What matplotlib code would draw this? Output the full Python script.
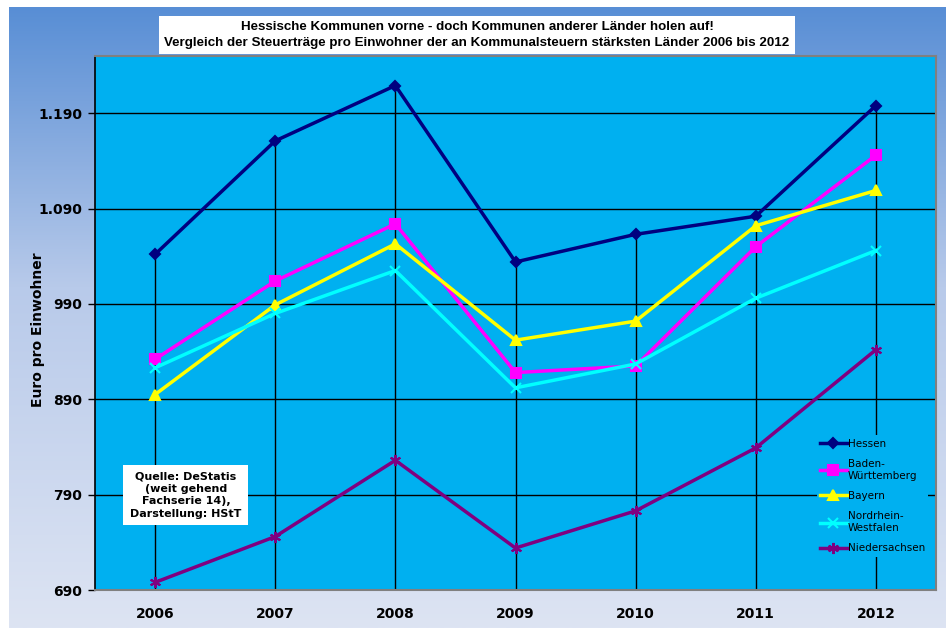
import numpy as np
import matplotlib
matplotlib.use("Agg")
import matplotlib.pyplot as plt
from matplotlib.ticker import FixedLocator, FuncFormatter

years = ["2006", "2007", "2008", "2009", "2010", "2011", "2012"]
hessen = [1042, 1161, 1219, 1034, 1063, 1082, 1198]
baden_wuerttemberg = [932, 1014, 1074, 918, 925, 1050, 1146]
bayern = [895, 989, 1053, 952, 972, 1072, 1109]
nordrhein_westfalen = [923, 980, 1025, 902, 927, 996, 1046]
niedersachsen = [698, 746, 826, 734, 773, 839, 942]

y_ticks = [690, 790, 890, 990, 1090, 1190]

series = [
    ("Hessen", hessen, "#000080", "D", 5),
    ("Baden-\nWürttemberg", baden_wuerttemberg, "#ff00ff", "s", 6.5),
    ("Bayern", bayern, "#ffff00", "^", 6.5),
    ("Nordrhein-\nWestfalen", nordrhein_westfalen, "#00ffff", "x", 6.5),
    ("Niedersachsen", niedersachsen, "#800080", (6, 2, 0), 8),
]

plt.rcParams["font.family"] = ["DejaVu Sans"]

fig = plt.figure(figsize=(9.5, 6.28), dpi=100)

# gradient background of the chart area
bg = fig.add_axes([9 / 950, 0, (946 - 9) / 950, 1 - 7 / 628], zorder=-10)
grad = np.linspace(0, 1, 256).reshape(-1, 1)
top = np.array([0x58, 0x8e, 0xd5]) / 255
mid = np.array([0xb8, 0xca, 0xea]) / 255
bot = np.array([0xdd, 0xe4, 0xf3]) / 255
colors = np.where(grad[..., None] < 0.45,
                  top + (mid - top) * (grad[..., None] / 0.45),
                  mid + (bot - mid) * ((grad[..., None] - 0.45) / 0.55))
bg.imshow(colors, aspect="auto", extent=[0, 1, 0, 1], origin="upper")
bg.set_axis_off()

ax = fig.add_axes([95 / 950, 1 - 590 / 628, (936 - 95) / 950, (590 - 56) / 628])
ax.set_facecolor("#00b0f0")

x = np.arange(len(years))
ax.set_xlim(-0.5, len(years) - 0.5)
ax.set_ylim(690, 1250)

# horizontal gridlines
for yv in y_ticks:
    ax.axhline(yv, color="black", lw=1, zorder=1)

# drop lines from the highest value to the axis
top_vals = np.max(np.array([s[1] for s in series]), axis=0)
ax.vlines(x, 690, top_vals, color="black", lw=1, zorder=1)

for label, vals, col, mk, ms in series:
    ax.plot(x, vals, color=col, lw=2.5, marker=mk, markersize=ms,
            markeredgecolor=col, markerfacecolor=col, markeredgewidth=1.5,
            label=label, zorder=3)

ax.yaxis.set_major_locator(FixedLocator(y_ticks))
ax.yaxis.set_major_formatter(FuncFormatter(lambda v, p: f"{int(v):,}".replace(",", ".")))
ax.set_xticks(x)
ax.set_xticklabels(years)
ax.tick_params(axis="x", length=0, pad=12, labelsize=10)
ax.tick_params(axis="y", length=5, width=1, pad=4, labelsize=10)
for lab in ax.get_xticklabels() + ax.get_yticklabels():
    lab.set_fontweight("bold")

for side in ("top", "right", "bottom"):
    ax.spines[side].set_color("#808080")
    ax.spines[side].set_linewidth(1.5)
ax.spines["left"].set_color("black")
ax.spines["left"].set_linewidth(1.2)

fig.text(38 / 950, 1 - 330 / 628, "Euro pro Einwohner", rotation=90,
         ha="center", va="center", fontsize=10, fontweight="bold")

leg = ax.legend(loc="center left", bbox_to_anchor=(0.852, 0.176), fontsize=7.5,
                frameon=True, facecolor="#00b0f0", edgecolor="none",
                framealpha=1, handlelength=2.6, handletextpad=0.1,
                labelspacing=1.0, borderpad=0.3, fancybox=False)
leg.set_zorder(5)

ax.text(0.108, 0.178, "Quelle: DeStatis\n(weit gehend\nFachserie 14),\nDarstellung: HStT",
        transform=ax.transAxes, ha="center", va="center", fontsize=8,
        fontweight="bold", linespacing=1.3, zorder=6,
        bbox=dict(boxstyle="square,pad=0.6", facecolor="white", edgecolor="none"))

fig.text(477 / 950, 1 - 35 / 628,
         "Hessische Kommunen vorne - doch Kommunen anderer Länder holen auf!\n"
         "Vergleich der Steuerträge pro Einwohner der an Kommunalsteuern stärksten Länder 2006 bis 2012",
         ha="center", va="center", fontsize=9.6, fontweight="bold", linespacing=1.35,
         family=["Liberation Sans", "DejaVu Sans"], zorder=10,
         bbox=dict(boxstyle="square,pad=0.4", facecolor="white", edgecolor="none"))

fig.savefig("out.png", dpi=100)
